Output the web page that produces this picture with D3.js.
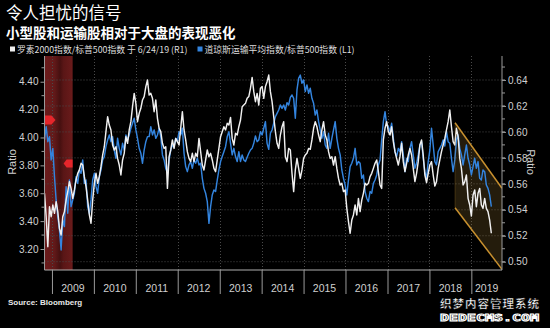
<!DOCTYPE html>
<html>
<head>
<meta charset="utf-8">
<script src="https://cdn.jsdelivr.net/npm/d3@7"></script>
<style>
  html, body { margin: 0; padding: 0; background: #000; }
  svg { display: block; }
</style>
</head>
<body>
<svg id="chart" width="550" height="328"></svg>
<script>
// ---- text ----
const titleText = "令人担忧的信号";
const subtitleText = "小型股和运输股相对于大盘的表现恶化";
const legendLabels = ["罗素2000指数/标普500指数 于 6/24/19 (R1)", "道琼斯运输平均指数/标普500指数 (L1)"];
const sourceText = "Source: Bloomberg";
const axisTitle = "Ratio";
const watermarkLines = ["织梦内容管理系统", "DEDECMS.COM"];

// ---- time span of the two series (evenly spaced observations) ----
const seriesStart = "2008-10-28";
const seriesEnd = "2019-06-24";
const viewStart = "2008-10-28";
const viewEnd = "2019-09-25";

// Dow Jones Transportation Average / S&P 500 (left axis, L1)
const transportRatio = [
  3.982,4.078,3.970,4.006,3.839,3.922,3.719,3.552,3.432,3.337,
  3.193,3.408,3.361,3.647,3.456,3.695,3.504,3.552,3.600,3.719,
  3.671,3.767,3.743,3.839,3.671,3.695,3.504,3.456,3.552,3.695,
  3.743,3.647,3.600,3.719,3.767,3.839,3.863,3.934,3.982,4.018,
  3.970,4.006,3.910,3.851,3.994,3.922,3.875,3.958,3.910,4.018,
  3.982,4.018,4.066,4.102,4.138,4.054,3.994,3.922,3.887,3.815,
  3.910,3.970,4.006,4.006,4.078,4.018,4.054,3.994,4.018,4.066,
  4.006,3.875,3.839,3.779,3.743,3.839,3.910,3.946,3.930,3.994,
  3.970,4.042,4.018,4.066,3.887,3.791,3.755,3.803,3.827,3.779,
  3.839,3.815,3.851,3.803,3.815,3.707,3.635,3.600,3.540,3.384,
  3.504,3.588,3.624,3.612,3.695,3.767,3.827,3.863,3.898,3.934,
  4.006,4.042,3.958,3.875,3.922,3.863,3.827,3.898,3.827,3.875,
  3.839,3.827,3.858,3.887,3.910,3.922,3.958,4.011,3.970,3.982,
  4.042,4.018,4.066,4.114,3.958,3.915,4.030,4.054,4.102,4.149,
  4.173,4.197,4.233,4.209,4.233,4.197,4.250,4.233,4.288,4.305,
  4.281,4.138,4.341,4.425,4.448,4.389,4.413,4.329,4.377,4.317,
  4.353,4.281,4.245,4.161,4.197,4.114,4.054,3.994,4.042,3.946,
  3.922,4.030,3.922,3.994,4.054,4.114,3.994,3.922,3.875,3.767,
  3.707,3.659,3.588,3.695,3.791,3.815,3.851,3.922,3.803,3.827,
  3.815,3.707,3.731,3.612,3.564,3.540,3.612,3.600,3.671,3.695,
  3.731,3.803,3.839,3.982,4.114,4.185,4.090,4.078,4.042,
  4.102,3.994,3.898,3.863,3.922,3.898,3.970,3.875,3.755,3.851,
  3.827,3.922,3.970,3.875,3.779,3.815,3.875,3.946,3.970,3.851,
  3.755,3.707,3.827,3.910,4.066,3.946,3.827,3.803,3.898,3.922,
  3.946,3.982,3.939,4.042,3.970,3.958,3.851,3.755,3.839,3.982,
  4.018,3.922,3.875,3.803,3.875,3.946,3.851,3.803,3.731,3.791,
  3.851,3.779,3.827,3.707,3.695,3.767,3.755,3.659,3.635,3.588,
  3.504
];

// Russell 2000 / S&P 500 (right axis, R1)
const smallCapRatio = [
  0.5527,0.5347,0.5116,0.5424,0.5347,0.5437,0.5373,0.5463,0.5386,0.5257,
  0.5206,0.5347,0.5386,0.5475,0.5540,0.5617,0.5565,0.5488,0.5553,0.5630,
  0.5681,0.5707,0.5758,0.5745,0.5655,0.5578,0.5475,0.5360,0.5296,0.5475,
  0.5604,0.5681,0.5604,0.5655,0.5732,0.5822,0.5886,0.6002,0.6117,0.6053,
  0.6015,0.5899,0.5861,0.5886,0.5796,0.5745,0.5668,0.5784,0.5835,0.5963,
  0.5912,0.6015,0.6079,0.6194,0.6297,0.6220,0.6079,0.6143,0.6182,0.6246,
  0.6272,0.6349,0.6400,0.6284,0.6297,0.6259,0.6156,0.6246,0.6105,0.6028,
  0.6002,0.5912,0.5873,0.5886,0.5565,0.5809,0.5861,0.5938,0.5873,0.5950,
  0.5925,0.5899,0.6028,0.6156,0.6015,0.5938,0.5848,0.5796,0.5771,0.5835,
  0.5771,0.5835,0.5809,0.5950,0.5848,0.5745,0.5707,0.5784,0.5861,0.5809,
  0.5835,0.5784,0.5719,0.5694,0.5784,0.5873,0.5963,0.6002,0.6040,0.6015,
  0.6066,0.6053,0.6112,0.5950,0.5899,0.5989,0.5976,0.6040,0.6092,0.6194,
  0.6207,0.6220,0.6259,0.6272,0.6336,0.6420,0.6310,0.6233,0.6297,0.6207,
  0.6336,0.6349,0.6259,0.6349,0.6387,0.6438,0.6310,0.6233,0.6117,0.6002,
  0.5912,0.5873,0.5976,0.6040,0.6079,0.5809,0.5771,0.5873,0.5861,0.5681,
  0.5540,0.5707,0.5796,0.5719,0.5642,0.5707,0.5796,0.5822,0.5835,0.5873,
  0.5866,0.5938,0.6028,0.6079,0.6040,0.5976,0.5925,0.6015,0.6079,0.5976,
  0.5938,0.5848,0.5796,0.5809,0.5745,0.5809,0.5719,0.5642,0.5591,0.5604,
  0.5540,0.5553,0.5411,0.5309,0.5219,0.5321,0.5360,0.5437,0.5360,0.5488,
  0.5386,0.5475,0.5527,0.5604,0.5591,0.5604,0.5655,0.5681,0.5719,0.5758,
  0.5784,0.5694,0.5591,0.5565,0.5938,0.6028,0.6079,0.6002,0.5976,
  0.6040,0.5925,0.5848,0.5796,0.5745,0.5809,0.5912,0.5771,0.5694,0.5758,
  0.5822,0.5873,0.5822,0.5719,0.5617,0.5681,0.5771,0.5899,0.5938,0.5822,
  0.5668,0.5609,0.5681,0.5745,0.5771,0.5668,0.5583,0.5617,0.5719,0.5784,
  0.5848,0.5899,0.5950,0.6015,0.6079,0.6169,0.6040,0.5925,0.5899,0.6028,
  0.5963,0.5796,0.5719,0.5591,0.5617,0.5668,0.5488,0.5437,0.5352,0.5514,
  0.5553,0.5424,0.5527,0.5565,0.5437,0.5411,0.5488,0.5411,0.5386,0.5321,
  0.5219
];

// ---- axis ticks ----
const leftTicks = [3.2, 3.4, 3.6, 3.8, 4.0, 4.2, 4.4];
const leftMinorTicks = [3.1, 3.3, 3.5, 3.7, 3.9, 4.1, 4.3, 4.5];
const rightTicks = [0.50, 0.52, 0.54, 0.56, 0.58, 0.60, 0.62, 0.64];
const rightMinorTicks = [0.50, 0.51, 0.52, 0.53, 0.54, 0.55, 0.56, 0.57, 0.58, 0.59, 0.60, 0.61, 0.62, 0.63, 0.64, 0.65];
const yearLabels = ["2009","2010","2011","2012","2013","2014","2015","2016","2017","2018","2019"];

// ---- annotations ----
const recession = ["2007-12-01", "2009-06-30"];
const recessionMarkers = [4.125, 3.813];           // L1 levels of the start / end flags
const channelTop = [["2018-08-12", 0.6071], [viewEnd, 0.5566]];
const channelBottom = [["2018-08-12", 0.5416], [viewEnd, 0.4941]];

// ---- layout ----
const W = 550, H = 328;
const plot = { left: 44.5, right: 502, top: 56, bottom: 270 };
const colors = {
  bg: "#000000",
  white: "#f0f0f0",
  blue: "#3384de",
  axis: "#9a9a9a",
  grid: "#4a4a4a",
  tickText: "#d0d0d0",
  channelFill: "rgba(150,118,50,0.24)",
  channelStroke: "#c9912f",
  marker: "#e5262b"
};
const cjk = "'Noto Sans CJK SC', 'Noto Sans', sans-serif";
const latin = "'Liberation Sans', Arial, sans-serif";

const parse = d3.utcParse("%Y-%m-%d");
const t0 = parse(seriesStart), t1 = parse(seriesEnd);
const n = transportRatio.length;
const dates = d3.range(n).map(i => new Date(+t0 + i * (t1 - t0) / (n - 1)));

const x = d3.scaleUtc().domain([parse(viewStart), parse(viewEnd)]).range([plot.left, plot.right]);
const yL = d3.scaleLinear().domain([3.0494, 4.5845]).range([plot.bottom, plot.top]);
const yR = d3.scaleLinear().domain([0.49361, 0.65849]).range([plot.bottom, plot.top]);

const svg = d3.select("#chart");
svg.append("rect").attr("width", W).attr("height", H).attr("fill", colors.bg);

const defs = svg.append("defs");
defs.append("clipPath").attr("id", "plotClip")
  .append("rect").attr("x", plot.left).attr("y", plot.top)
  .attr("width", plot.right - plot.left).attr("height", plot.bottom - plot.top);
const grad = defs.append("linearGradient").attr("id", "recGrad")
  .attr("x1", "0%").attr("x2", "100%").attr("y1", "0%").attr("y2", "0%");
[["0%", "#6c1c1c"], ["35%", "#621919"], ["55%", "#461010"], ["68%", "#5a1616"], ["100%", "#6a1b1b"]]
  .forEach(([o, c]) => grad.append("stop").attr("offset", o).attr("stop-color", c));

const g = svg.append("g");
const clipped = g.append("g").attr("clip-path", "url(#plotClip)");

// recession band
const recX0 = Math.max(x(parse(recession[0])), plot.left);
const recX1 = x(parse(recession[1]));
clipped.append("rect")
  .attr("x", recX0).attr("y", plot.top)
  .attr("width", recX1 - recX0).attr("height", plot.bottom - plot.top)
  .attr("fill", "url(#recGrad)");

// grid
const yearStarts = yearLabels.map(y => parse(y + "-01-01"));
clipped.append("g").selectAll("line").data(rightTicks).join("line")
  .attr("x1", plot.left).attr("x2", plot.right)
  .attr("y1", d => yR(d)).attr("y2", d => yR(d))
  .attr("stroke", colors.grid).attr("stroke-width", 1).attr("stroke-dasharray", "1,2");
clipped.append("g").selectAll("line").data(yearStarts).join("line")
  .attr("x1", d => Math.round(x(d)) + 0.5).attr("x2", d => Math.round(x(d)) + 0.5)
  .attr("y1", plot.top).attr("y2", plot.bottom)
  .attr("stroke", colors.grid).attr("stroke-width", 1).attr("stroke-dasharray", "1,2");

// downward channel
const chanPts = [
  [x(parse(channelTop[0][0])), yR(channelTop[0][1])],
  [x(parse(channelTop[1][0])), yR(channelTop[1][1])],
  [x(parse(channelBottom[1][0])), yR(channelBottom[1][1])],
  [x(parse(channelBottom[0][0])), yR(channelBottom[0][1])]
];
clipped.append("polygon")
  .attr("points", chanPts.map(p => p.join(",")).join(" "))
  .attr("fill", colors.channelFill);

// series lines
const lineL = d3.line().x((d, i) => x(dates[i])).y(d => yL(d));
const lineR = d3.line().x((d, i) => x(dates[i])).y(d => yR(d));
clipped.append("path").datum(transportRatio)
  .attr("d", lineL).attr("fill", "none")
  .attr("stroke", colors.blue).attr("stroke-width", 1.45).attr("stroke-linejoin", "round");
clipped.append("path").datum(smallCapRatio)
  .attr("d", lineR).attr("fill", "none")
  .attr("stroke", colors.white).attr("stroke-width", 1.45).attr("stroke-linejoin", "round");

// channel borders
[[chanPts[0], chanPts[1]], [chanPts[3], chanPts[2]]].forEach(([a, b]) => {
  clipped.append("line")
    .attr("x1", a[0]).attr("y1", a[1]).attr("x2", b[0]).attr("y2", b[1])
    .attr("stroke", colors.channelStroke).attr("stroke-width", 1.5);
});
clipped.append("line")
  .attr("x1", chanPts[0][0]).attr("y1", chanPts[0][1]).attr("x2", chanPts[3][0]).attr("y2", chanPts[3][1])
  .attr("stroke", "rgba(201,145,47,0.25)").attr("stroke-width", 1);

// recession flags
const flagStart = recessionMarkers[0], flagEnd = recessionMarkers[1];
{
  const x0 = plot.left, yc = yL(flagStart);
  g.append("path")
    .attr("d", `M${x0},${yc - 4.5} L${x0 + 7},${yc - 4.5} L${x0 + 11},${yc} L${x0 + 7},${yc + 4.5} L${x0},${yc + 4.5} Z`)
    .attr("fill", colors.marker);
  const x1 = recX1, yc2 = yL(flagEnd);
  g.append("path")
    .attr("d", `M${x1},${yc2 - 4} L${x1 - 6},${yc2 - 4} L${x1 - 9},${yc2} L${x1 - 6},${yc2 + 4} L${x1},${yc2 + 4} Z`)
    .attr("fill", colors.marker);
}

// axes
function styleAxis(sel) {
  sel.select(".domain").attr("stroke", colors.axis).attr("stroke-width", 1);
  sel.selectAll(".tick line").attr("stroke", colors.axis);
  sel.selectAll(".tick text").attr("fill", colors.tickText)
    .style("font-family", latin).style("font-size", "10px");
}

const leftAxis = g.append("g").attr("transform", `translate(${plot.left},0)`)
  .call(d3.axisLeft(yL).tickValues(leftTicks).tickSize(4).tickPadding(2)
    .tickFormat(d3.format(".2f")));
styleAxis(leftAxis);
leftAxis.select(".domain").attr("d", `M0,${plot.top}V${plot.bottom}`);
g.append("g").attr("transform", `translate(${plot.left},0)`)
  .selectAll("line").data(leftMinorTicks).join("line")
  .attr("x1", -3).attr("x2", 0).attr("y1", d => yL(d)).attr("y2", d => yL(d))
  .attr("stroke", colors.axis);

const rightAxis = g.append("g").attr("transform", `translate(${plot.right},0)`)
  .call(d3.axisRight(yR).tickValues(rightTicks).tickSize(4).tickPadding(2)
    .tickFormat(d3.format(".2f")));
styleAxis(rightAxis);
rightAxis.select(".domain").attr("d", `M0,${plot.top}V${plot.bottom}`);
g.append("g").attr("transform", `translate(${plot.right},0)`)
  .selectAll("line").data(rightMinorTicks.filter(d => yR(d) >= plot.top)).join("line")
  .attr("x1", 0).attr("x2", 3).attr("y1", d => yR(d)).attr("y2", d => yR(d))
  .attr("stroke", colors.axis);

const bottomAxis = g.append("g").attr("transform", `translate(0,${plot.bottom})`)
  .call(d3.axisBottom(x).tickValues(yearStarts).tickSize(24).tickFormat(""));
styleAxis(bottomAxis);
bottomAxis.select(".domain").attr("d", `M${plot.left},0H${plot.right}`).attr("stroke", "#b0b0b0");

// year labels centred on the visible part of each year
const viewEndDate = parse(viewEnd);
g.append("g").selectAll("text").data(yearLabels).join("text")
  .attr("x", (d, i) => {
    const a = yearStarts[i];
    const b = d3.min([parse((+d + 1) + "-01-01"), viewEndDate]);
    return (x(a) + x(b)) / 2;
  })
  .attr("y", 292)
  .attr("text-anchor", "middle")
  .attr("fill", colors.tickText)
  .style("font-family", latin).style("font-size", "10.5px")
  .text(d => d);

// axis titles
g.append("text")
  .attr("transform", `translate(16,162) rotate(-90)`)
  .attr("text-anchor", "middle").attr("fill", colors.tickText)
  .style("font-family", latin).style("font-size", "11px").text(axisTitle);
g.append("text")
  .attr("transform", `translate(527,162) rotate(90)`)
  .attr("text-anchor", "middle").attr("fill", colors.tickText)
  .style("font-family", latin).style("font-size", "11px").text(axisTitle);

// titles
svg.append("text").attr("x", 6).attr("y", 19)
  .attr("fill", "#ffffff").style("font-family", cjk).style("font-size", "16.5px")
  .text(titleText);
svg.append("text").attr("x", 6).attr("y", 38)
  .attr("fill", "#ffffff").style("font-family", cjk).style("font-size", "13.5px")
  .style("font-weight", "bold").text(subtitleText);

// legend
const legend = svg.append("g");
const legendItems = [
  { label: legendLabels[0], color: colors.white, x: 10 },
  { label: legendLabels[1], color: colors.blue, x: 197.5 }
];
legendItems.forEach(it => {
  legend.append("rect").attr("x", it.x).attr("y", 46.5).attr("width", 5).attr("height", 5)
    .attr("fill", it.color);
  legend.append("text").attr("x", it.x + 7).attr("y", 52.5)
    .attr("fill", "#dddddd").style("font-family", cjk).style("font-size", "8.8px")
    .text(it.label);
});

// source
svg.append("text").attr("x", 8).attr("y", 304.5)
  .attr("fill", "#e8e8e8").style("font-family", latin).style("font-size", "8px")
  .style("font-weight", "bold").text(sourceText);

// watermark
svg.append("text").attr("x", 440).attr("y", 307.5)
  .attr("fill", "#ffffff").attr("stroke", "#000").attr("stroke-width", 0.4)
  .style("font-family", cjk).style("font-size", "11.5px").style("font-weight", "bold")
  .attr("textLength", 99).text(watermarkLines[0]);
svg.append("text").attr("x", 440).attr("y", 321)
  .attr("fill", "#000").attr("stroke", "#ffffff").attr("stroke-width", 0.9)
  .style("font-family", "'DejaVu Sans Mono', monospace").style("font-size", "9.5px").style("font-weight", "bold")
  .attr("textLength", 99).attr("lengthAdjust", "spacingAndGlyphs").text(watermarkLines[1]);
</script>
</body>
</html>
